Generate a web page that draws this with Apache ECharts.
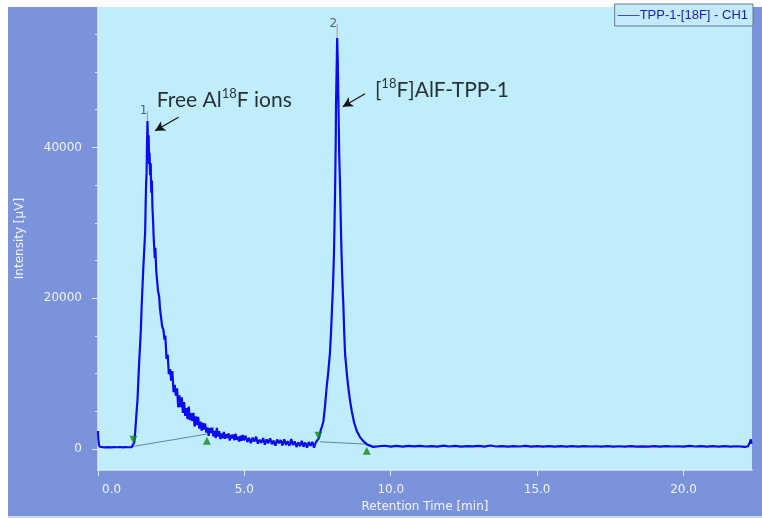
<!DOCTYPE html>
<html>
<head>
<meta charset="utf-8">
<script src="https://cdn.jsdelivr.net/npm/echarts@6/dist/echarts.min.js"></script>
<style>
  html, body { margin: 0; padding: 0; background: #ffffff; }
  #chart { width: 762px; height: 518px; }
</style>
</head>
<body>
<div id="chart"></div>
<script>
// Detector trace: retention time [min] and intensity [µV]
const retentionTime = [
  0.00, 0.01, 0.03, 0.06, 0.15, 0.25, 0.35, 0.45, 0.55, 0.65, 0.75, 0.85, 0.95, 1.05, 1.15, 1.20,
  1.24, 1.27, 1.31, 1.35, 1.40, 1.46, 1.50, 1.55, 1.58, 1.61, 1.63, 1.645, 1.66, 1.675, 1.69,
  1.70, 1.715, 1.73, 1.745, 1.76, 1.78, 1.80, 1.82, 1.84, 1.86, 1.88, 1.90, 1.92, 1.94, 1.96,
  1.99, 2.02, 2.05, 2.09, 2.12, 2.15, 2.19, 2.24, 2.27,
  2.30, 2.34, 2.38, 2.42, 2.46, 2.50, 2.54, 2.58, 2.62, 2.66, 2.70, 2.74, 2.78, 2.82, 2.86, 2.90, 2.94, 2.98,
  3.02, 3.06, 3.10, 3.14, 3.18, 3.22, 3.26, 3.30, 3.34, 3.38, 3.42, 3.46, 3.50,
  3.54, 3.58, 3.62, 3.66, 3.70, 3.74, 3.78, 3.82, 3.86, 3.90, 3.94, 3.98,
  4.02, 4.06, 4.10, 4.14, 4.18, 4.22, 4.26, 4.30, 4.34, 4.38, 4.42, 4.46, 4.50,
  4.54, 4.58, 4.62, 4.66, 4.70, 4.74, 4.78, 4.82, 4.86, 4.90, 4.94, 4.98,
  5.04, 5.10, 5.16, 5.22, 5.28, 5.34, 5.40, 5.46, 5.52, 5.58, 5.64, 5.70, 5.76, 5.82, 5.88, 5.94,
  6.00, 6.06, 6.12, 6.18, 6.24, 6.30, 6.36, 6.42, 6.48, 6.54, 6.60, 6.66, 6.72, 6.78, 6.84, 6.90, 6.96,
  7.02, 7.08, 7.14, 7.20, 7.26, 7.32, 7.38, 7.44, 7.50,
  7.55, 7.60, 7.65, 7.70, 7.75, 7.81, 7.86, 7.92, 7.96, 8.00, 8.03, 8.06, 8.08, 8.10, 8.12, 8.13, 8.15, 8.17,
  8.19, 8.21, 8.24, 8.27, 8.30, 8.32, 8.35, 8.38, 8.41, 8.44, 8.50, 8.55, 8.61, 8.67, 8.75, 8.84, 8.95, 9.06, 9.20, 9.40,
  9.60, 9.80, 10.0, 10.2, 10.4, 10.6, 10.8, 11.0, 11.2, 11.4, 11.6, 11.8, 12.0, 12.2, 12.4, 12.6, 12.8, 13.0, 13.2, 13.4,
  13.6, 13.8, 14.0, 14.2, 14.4, 14.6, 14.8, 15.0, 15.2, 15.4, 15.6, 15.8, 16.0, 16.2, 16.4, 16.6, 16.8, 17.0, 17.2, 17.4,
  17.6, 17.8, 18.0, 18.2, 18.4, 18.6, 18.8, 19.0, 19.2, 19.4, 19.6, 19.8, 20.0, 20.2, 20.4, 20.6, 20.8, 21.0, 21.2, 21.4,
  21.6, 21.8, 22.0, 22.1, 22.2, 22.27, 22.30, 22.32
];
const intensity = [
  2400, 1500, 600, 320, 260, 240, 270, 230, 260, 250, 280, 240, 260, 250, 270, 280,
  900, 2250, 4500, 6600, 11000, 15500, 19800, 24200, 26500, 28700, 33000, 35300, 36600, 40500, 43500,
  42000, 39500, 41600, 37800, 39300, 36300, 37900, 34000, 35600, 32000, 30400, 28200, 28300, 25300, 26700,
  23600, 23400, 21000, 20200, 18500, 17600, 16300, 15700, 14500,
  15050, 11960, 12530, 9950, 10615, 9070, 10360, 7555, 8525, 7080, 8045, 5545, 7135, 5575, 6850, 4815, 6250, 4400,
  5445, 3975, 5640, 3840, 4770, 3705, 4800, 3000, 4328, 3187, 4275, 2722, 3650,
  2440, 3472, 2594, 3390, 2202, 2880, 1776, 2784, 2138, 2846, 1698, 2406,
  1460, 2818, 1680, 2398, 1334, 2062, 1446, 2270, 1366, 1960, 1498, 2092, 1150,
  1888, 1431, 1934, 1189, 2028, 1240, 1652, 1008, 1756, 1112, 1865, 1178,
  1780, 940, 1495, 790, 1525, 1005, 1655, 730, 1245, 820, 1475, 600, 1300, 785, 1440, 655,
  1135, 445, 1285, 775, 1210, 475, 1310, 570, 1045, 440, 1325, 545, 1020, 280, 895, 385, 1090,
  310, 880, 190, 940, 435, 965, 195, 880, 800,
  1500, 2400, 3000, 3700, 5500, 8200, 10000, 12600, 15500, 19200, 22000, 25800, 30000, 34700, 40500, 45600, 50000, 54500,
  51500, 46500, 39000, 34700, 29000, 25800, 22000, 19200, 15500, 12600, 10000, 8200, 6400, 5000, 3500, 2400, 1600, 1060, 600, 300,
  380, 450, 340, 420, 330, 430, 360, 440, 350, 410, 340, 460, 350, 420, 330, 400, 360, 430, 340, 480,
  350, 410, 320, 400, 350, 420, 330, 390, 340, 400, 320, 410, 340, 390, 330, 400, 350, 380, 320, 390,
  330, 380, 340, 400, 320, 370, 340, 390, 330, 400, 350, 380, 340, 420, 350, 400, 330, 410, 340, 390,
  320, 380, 330, 300, 360, 900, 1300, 700
];

// Integration baselines drawn under each peak
const baselineTimes = [[1.21, 3.72], [7.58, 9.18]];
const baselineLevels = [[360, 2000], [970, 660]];

// Peak start (down) and peak end (up) markers
const peakStartTimes = [1.21, 7.53];
const peakStartLevels = [1230, 1760];
const peakEndTimes = [3.72, 9.18];
const peakEndLevels = [1100, -220];

// Peak apex ticks and peak numbers
const apexTimes = [1.69, 8.17];
const apexBases = [43500, 54500];
const apexTops = [44800, 56400];
const peakNumbers = ['1', '2'];

// Axis ticks
const xMajorTicks = [0, 5, 10, 15, 20];
const xMinorTicks = [1, 2, 3, 4, 6, 7, 8, 9, 11, 12, 13, 14, 16, 17, 18, 19, 21, 22];
const yMajorTicks = [0, 20000, 40000];
const yMinorTicks = [5000, 10000, 15000, 25000, 30000, 35000, 45000, 50000, 55000];

// Annotation text anchors and arrows
const noteTexts = ['{t|Free Al}{s|18}{t|F ions}', '{t|[}{s|18}{t|F]AlF-TPP-1}'];
const noteTimes = [2.01, 9.46];
const noteLevels = [46300, 47600];
const arrowFrom = [[2.75, 44000], [9.12, 47100]];
const arrowTo = [[1.95, 42200], [8.36, 45400]];

const seriesName = 'TPP-1-[18F] - CH1';

const axisColor = '#dbe8f7';
const labelColor = '#eef3ff';
const uiFont = 'DejaVu Sans';

const trace = retentionTime.map((t, i) => [t, intensity[i]]);

const baselineSeries = baselineTimes.map((ts, i) => ({
  type: 'line',
  data: ts.map((t, j) => [t, baselineLevels[i][j]]),
  showSymbol: false,
  silent: true,
  lineStyle: { color: '#5f8a96', width: 1 },
  z: 1
}));

const apexSeries = apexTimes.map((t, i) => ({
  type: 'line',
  data: [[t, apexBases[i]], [t, apexTops[i]]],
  showSymbol: false,
  silent: true,
  lineStyle: { color: '#e8787a', width: 1 },
  z: 4
}));

const option = {
  animation: false,
  backgroundColor: '#7b93db',
  graphic: [
    { type: 'rect', shape: { x: 0, y: 0, width: 762, height: 7 }, style: { fill: '#ffffff' } },
    { type: 'rect', shape: { x: 0, y: 0, width: 8, height: 518 }, style: { fill: '#ffffff' } },
    { type: 'rect', shape: { x: 8, y: 516, width: 754, height: 2 }, style: { fill: '#cfd8ef' } }
  ],
  grid: {
    left: 98, right: 10, top: 7, bottom: 47,
    show: true, backgroundColor: '#bfedfb', borderWidth: 0
  },
  legend: {
    data: [seriesName],
    right: 9, top: 4,
    backgroundColor: '#c2ecfb',
    borderColor: '#66788a', borderWidth: 1, borderRadius: 0,
    padding: [5, 5, 4, 3],
    icon: 'rect', itemWidth: 22, itemHeight: 1, itemGap: 0,
    textStyle: { color: '#1d1db5', fontSize: 13, fontFamily: 'Liberation Sans', padding: [0, 0, 0, -5] }
  },
  xAxis: [{
    type: 'value', min: 0, max: 22.34,
    name: 'Retention Time [min]', nameLocation: 'middle', nameGap: 30,
    nameTextStyle: { color: labelColor, fontSize: 12, fontFamily: uiFont },
    axisLine: { show: true, onZero: false, lineStyle: { color: axisColor, width: 1.5 } },
    axisTick: { show: true, length: 6, customValues: xMajorTicks, lineStyle: { color: axisColor } },
    axisLabel: {
      customValues: xMajorTicks, margin: 14, color: labelColor, fontSize: 12, fontFamily: uiFont,
      alignMinLabel: 'left',
      formatter: v => (v === 0 ? '{first|' + v.toFixed(1) + '}' : v.toFixed(1)),
      rich: { first: { color: labelColor, fontSize: 12, fontFamily: uiFont, padding: [0, 0, 0, 4] } }
    },
    splitLine: { show: false }
  }, {
    type: 'value', min: 0, max: 22.34, position: 'bottom',
    axisLine: { show: false },
    axisTick: { show: true, length: 3, customValues: xMinorTicks, lineStyle: { color: axisColor } },
    axisLabel: { show: false },
    splitLine: { show: false }
  }],
  yAxis: [{
    type: 'value', min: -2780, max: 58610,
    name: 'Intensity [µV]', nameLocation: 'middle', nameGap: 72,
    nameTextStyle: { color: labelColor, fontSize: 12, fontFamily: uiFont },
    axisLine: { show: true, onZero: false, lineStyle: { color: axisColor, width: 1.5 } },
    axisTick: { show: true, length: 6, customValues: yMajorTicks, lineStyle: { color: axisColor } },
    axisLabel: {
      customValues: yMajorTicks, margin: 16, color: labelColor, fontSize: 12, fontFamily: uiFont,
      formatter: v => String(v)
    },
    splitLine: { show: false }
  }, {
    type: 'value', min: -2780, max: 58610, position: 'left',
    axisLine: { show: false },
    axisTick: { show: true, length: 3, customValues: yMinorTicks, lineStyle: { color: axisColor } },
    axisLabel: { show: false },
    splitLine: { show: false }
  }],
  series: [
    ...baselineSeries,
    {
      name: seriesName,
      type: 'line',
      data: trace,
      showSymbol: false,
      sampling: null,
      lineStyle: { color: '#0b0bf2', width: 2.2 },
      itemStyle: { color: '#3a4fd0' },
      z: 3
    },
    ...apexSeries,
    {
      type: 'scatter',
      data: peakStartTimes.map((t, i) => [t, peakStartLevels[i]]),
      symbol: 'triangle', symbolRotate: 180, symbolSize: [8, 8],
      itemStyle: { color: '#138a13' },
      silent: true, z: 5
    },
    {
      type: 'scatter',
      data: peakEndTimes.map((t, i) => [t, peakEndLevels[i]]),
      symbol: 'triangle', symbolSize: [8, 8],
      itemStyle: { color: '#138a13' },
      silent: true, z: 5
    },
    {
      type: 'scatter',
      data: apexTimes.map((t, i) => ({
        value: [t, apexTops[i]],
        label: { formatter: peakNumbers[i] }
      })),
      symbolSize: 0,
      silent: true,
      label: {
        show: true, position: 'left', distance: 0,
        color: '#2d4360', fontSize: 12, fontFamily: uiFont
      },
      z: 6
    },
    {
      type: 'scatter',
      data: noteTimes.map((t, i) => ({
        value: [t, noteLevels[i]],
        label: { formatter: noteTexts[i] }
      })),
      symbolSize: 0,
      silent: true,
      label: {
        show: true, position: 'right', distance: 0,
        rich: {
          t: { fontFamily: 'Lato', fontSize: 21, color: '#000000', lineHeight: 25 },
          s: { fontFamily: 'Lato', fontSize: 13, color: '#000000', lineHeight: 19, verticalAlign: 'top' }
        }
      },
      markLine: {
        silent: true,
        symbol: ['none', 'arrow'],
        symbolSize: [8, 10],
        label: { show: false },
        lineStyle: { color: '#111111', width: 1.2, type: 'solid' },
        data: arrowFrom.map((p, i) => [{ coord: p }, { coord: arrowTo[i] }])
      },
      z: 6
    }
  ]
};

const chart = echarts.init(document.getElementById('chart'));
chart.setOption(option);
</script>
</body>
</html>
